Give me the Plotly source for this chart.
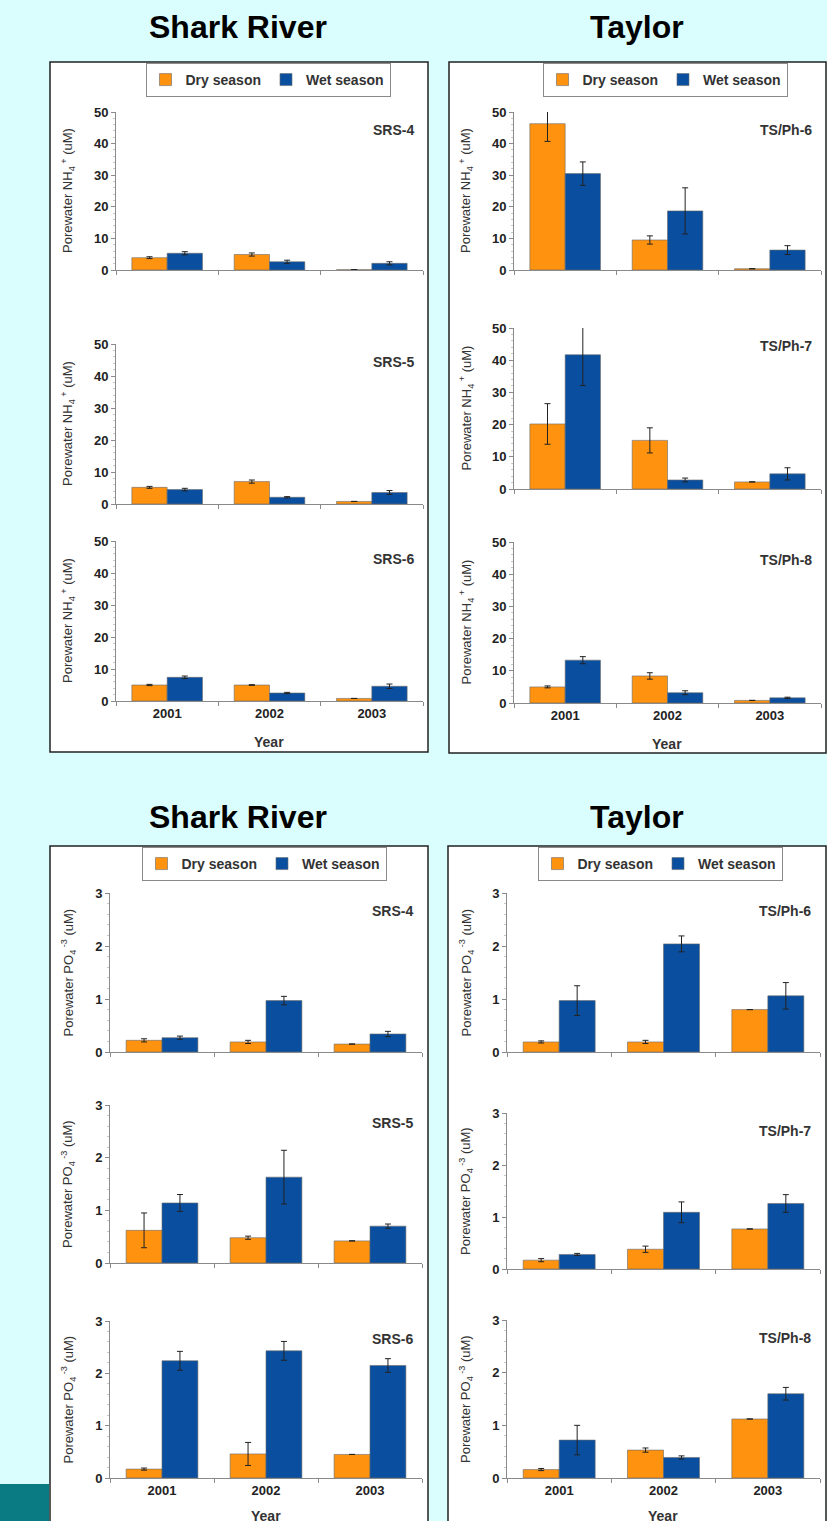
import plotly.graph_objects as go

# ---------------- data ----------------
years = ["2001", "2002", "2003"]
seasons = ["Dry season", "Wet season"]
region_titles = ["Shark River", "Taylor"]

# Porewater NH4+ (uM)
nh4_srs4_dry = [3.9, 4.9, 0.1]
nh4_srs4_dry_err = [0.3, 0.5, None]
nh4_srs4_wet = [5.3, 2.6, 2.1]
nh4_srs4_wet_err = [0.5, 0.5, 0.5]
nh4_srs5_dry = [5.2, 7.0, 0.8]
nh4_srs5_dry_err = [0.3, 0.5, None]
nh4_srs5_wet = [4.5, 2.1, 3.6]
nh4_srs5_wet_err = [0.4, 0.2, 0.6]
nh4_srs6_dry = [5.0, 5.0, 0.8]
nh4_srs6_dry_err = [0.2, 0.1, None]
nh4_srs6_wet = [7.4, 2.5, 4.6]
nh4_srs6_wet_err = [0.4, 0.2, 0.7]
nh4_ts6_dry = [46.3, 9.5, 0.4]
nh4_ts6_dry_err = [5.6, 1.3, None]
nh4_ts6_wet = [30.5, 18.7, 6.3]
nh4_ts6_wet_err = [3.7, 7.3, 1.4]
nh4_ts7_dry = [20.2, 15.1, 2.2]
nh4_ts7_dry_err = [6.3, 3.9, None]
nh4_ts7_wet = [41.7, 2.8, 4.7]
nh4_ts7_wet_err = [9.6, 0.6, 1.9]
nh4_ts8_dry = [5.0, 8.4, 0.8]
nh4_ts8_dry_err = [0.3, 1.0, None]
nh4_ts8_wet = [13.3, 3.2, 1.6]
nh4_ts8_wet_err = [1.1, 0.6, 0.2]

# Porewater PO4-3 (uM)
po4_srs4_dry = [0.22, 0.19, 0.15]
po4_srs4_dry_err = [0.03, 0.03, None]
po4_srs4_wet = [0.27, 0.97, 0.34]
po4_srs4_wet_err = [0.03, 0.08, 0.05]
po4_srs5_dry = [0.62, 0.48, 0.42]
po4_srs5_dry_err = [0.33, 0.03, None]
po4_srs5_wet = [1.14, 1.63, 0.70]
po4_srs5_wet_err = [0.16, 0.51, 0.04]
po4_srs6_dry = [0.17, 0.46, 0.45]
po4_srs6_dry_err = [0.02, 0.22, None]
po4_srs6_wet = [2.24, 2.43, 2.15]
po4_srs6_wet_err = [0.18, 0.18, 0.13]
po4_ts6_dry = [0.19, 0.19, 0.80]
po4_ts6_dry_err = [0.02, 0.03, None]
po4_ts6_wet = [0.97, 2.04, 1.06]
po4_ts6_wet_err = [0.28, 0.15, 0.25]
po4_ts7_dry = [0.17, 0.38, 0.77]
po4_ts7_dry_err = [0.03, 0.06, None]
po4_ts7_wet = [0.28, 1.09, 1.26]
po4_ts7_wet_err = [0.02, 0.20, 0.17]
po4_ts8_dry = [0.16, 0.53, 1.12]
po4_ts8_dry_err = [0.02, 0.04, None]
po4_ts8_wet = [0.72, 0.39, 1.60]
po4_ts8_wet_err = [0.28, 0.03, 0.12]

# ---------------- layout helpers ----------------
W, H = 827, 1521
FONT = "Arial, Liberation Sans, sans-serif"
DRY_COLOR = "#ff930f"
WET_COLOR = "#0a4f9f"
AXIS_COLOR = "#8a8a8a"
BG = "#dafefe"


def px(x):
    return x / W


def py(y):
    return 1 - y / H


NH4_TITLE = "Porewater NH<sub>4</sub><sup> +</sup> (uM)"
PO4_TITLE = "Porewater PO<sub>4</sub><sup> -3</sup> (uM)"

# (label, dry, dry_err, wet, wet_err, kind, legend, xl, xr, ytop, ybot, last)
panels = [
    ("SRS-4", nh4_srs4_dry, nh4_srs4_dry_err, nh4_srs4_wet, nh4_srs4_wet_err, "nh4", "legend", 116, 423, 112, 270, False),
    ("SRS-5", nh4_srs5_dry, nh4_srs5_dry_err, nh4_srs5_wet, nh4_srs5_wet_err, "nh4", "legend", 116, 423, 344, 504, False),
    ("SRS-6", nh4_srs6_dry, nh4_srs6_dry_err, nh4_srs6_wet, nh4_srs6_wet_err, "nh4", "legend", 116, 423, 541, 701, True),
    ("TS/Ph-6", nh4_ts6_dry, nh4_ts6_dry_err, nh4_ts6_wet, nh4_ts6_wet_err, "nh4", "legend2", 514, 821, 112, 270, False),
    ("TS/Ph-7", nh4_ts7_dry, nh4_ts7_dry_err, nh4_ts7_wet, nh4_ts7_wet_err, "nh4", "legend2", 514, 821, 328, 489, False),
    ("TS/Ph-8", nh4_ts8_dry, nh4_ts8_dry_err, nh4_ts8_wet, nh4_ts8_wet_err, "nh4", "legend2", 514, 821, 542, 703, True),
    ("SRS-4", po4_srs4_dry, po4_srs4_dry_err, po4_srs4_wet, po4_srs4_wet_err, "po4", "legend3", 110, 422, 893, 1052, False),
    ("SRS-5", po4_srs5_dry, po4_srs5_dry_err, po4_srs5_wet, po4_srs5_wet_err, "po4", "legend3", 110, 422, 1105, 1263, False),
    ("SRS-6", po4_srs6_dry, po4_srs6_dry_err, po4_srs6_wet, po4_srs6_wet_err, "po4", "legend3", 110, 422, 1321, 1478, True),
    ("TS/Ph-6", po4_ts6_dry, po4_ts6_dry_err, po4_ts6_wet, po4_ts6_wet_err, "po4", "legend4", 507, 820, 893, 1052, False),
    ("TS/Ph-7", po4_ts7_dry, po4_ts7_dry_err, po4_ts7_wet, po4_ts7_wet_err, "po4", "legend4", 507, 820, 1113, 1269, False),
    ("TS/Ph-8", po4_ts8_dry, po4_ts8_dry_err, po4_ts8_wet, po4_ts8_wet_err, "po4", "legend4", 507, 820, 1320, 1478, True),
]

fig = go.Figure()
layout_axes = {}
annotations = []
seen_legends = set()

for i, (label, dry, dry_err, wet, wet_err, kind, leg, xl, xr, yt, yb, last) in enumerate(panels):
    n = i + 1
    xa = "x" if n == 1 else f"x{n}"
    ya = "y" if n == 1 else f"y{n}"
    show = leg not in seen_legends
    seen_legends.add(leg)
    for name, vals, errs, color in ((seasons[0], dry, dry_err, DRY_COLOR), (seasons[1], wet, wet_err, WET_COLOR)):
        fig.add_trace(go.Bar(
            x=years, y=vals, name=name, xaxis=xa, yaxis=ya,
            marker=dict(color=color, line=dict(color="#6a6a6a", width=0.6)),
            error_y=dict(type="data", array=errs, visible=True, color="#222222", thickness=1, width=3),
            legend=leg, showlegend=show, legendgroup=leg + name,
        ))

    rng = [0, 50] if kind == "nh4" else [0, 3]
    dt = 10 if kind == "nh4" else 1
    minor_dt = 2 if kind == "nh4" else 0.2
    xkey = "xaxis" if n == 1 else f"xaxis{n}"
    ykey = "yaxis" if n == 1 else f"yaxis{n}"
    layout_axes[xkey] = dict(
        domain=[px(xl), px(xr)], anchor=ya, type="category",
        categoryorder="array", categoryarray=years,
        showline=True, linecolor=AXIS_COLOR, linewidth=1,
        ticks="outside", tickson="boundaries", ticklen=4, tickcolor=AXIS_COLOR,
        showgrid=False, zeroline=False, showticklabels=last, automargin=False,
        tickfont=dict(family=FONT, size=13, color="#222222", weight="bold"),
        fixedrange=True,
    )
    layout_axes[ykey] = dict(
        domain=[py(yb), py(yt)], anchor=xa, range=rng, dtick=dt, tick0=0,
        showline=True, linecolor=AXIS_COLOR, linewidth=1,
        ticks="outside", ticklen=4, tickcolor=AXIS_COLOR,
        minor=dict(dtick=minor_dt, ticks="outside", ticklen=2, tickcolor="#c8c8c8"),
        showgrid=False, zeroline=False, automargin=False,
        tickfont=dict(family=FONT, size=13, color="#222222", weight="bold"),
        fixedrange=True,
    )
    # station label
    annotations.append(dict(
        text=f"<b>{label}</b>", x=px(xr - 7), y=py(yt + 18), xref="paper", yref="paper",
        xanchor="right", yanchor="middle", showarrow=False,
        font=dict(family=FONT, size=14, color="#333333"),
    ))
    # y-axis title
    box_left = 50 if xl < 300 else 448
    annotations.append(dict(
        text=NH4_TITLE if kind == "nh4" else PO4_TITLE,
        x=px(box_left + 18), y=py((yt + yb) / 2), xref="paper", yref="paper",
        xanchor="center", yanchor="middle", textangle=-90, showarrow=False,
        font=dict(family=FONT, size=13, color="#333333"),
    ))

# "Year" labels (bottom ones are cut by the page edge, as in the original)
for xc, yc in ((269, 742), (667, 744), (266, 1516), (663, 1516)):
    annotations.append(dict(
        text="<b>Year</b>", x=px(xc), y=py(yc), xref="paper", yref="paper",
        xanchor="center", yanchor="middle", showarrow=False,
        font=dict(family=FONT, size=14, color="#333333"),
    ))

# Region titles
for yc in (27, 817):
    for xc, t in ((238, region_titles[0]), (637, region_titles[1])):
        annotations.append(dict(
            text=f"<b>{t}</b>", x=px(xc), y=py(yc), xref="paper", yref="paper",
            xanchor="center", yanchor="middle", showarrow=False,
            font=dict(family=FONT, size=32, color="#000000"),
        ))

shapes = [
    dict(type="rect", xref="paper", yref="paper", x0=px(50), x1=px(428), y0=py(752), y1=py(62),
         line=dict(color="#222222", width=1.5), fillcolor="white", layer="below"),
    dict(type="rect", xref="paper", yref="paper", x0=px(449), x1=px(826), y0=py(753), y1=py(62),
         line=dict(color="#222222", width=1.5), fillcolor="white", layer="below"),
    dict(type="rect", xref="paper", yref="paper", x0=px(50), x1=px(428), y0=py(1540), y1=py(846),
         line=dict(color="#222222", width=1.5), fillcolor="white", layer="below"),
    dict(type="rect", xref="paper", yref="paper", x0=px(448), x1=px(826), y0=py(1540), y1=py(846),
         line=dict(color="#222222", width=1.5), fillcolor="white", layer="below"),
    dict(type="rect", xref="paper", yref="paper", x0=0, x1=px(49), y0=py(1540), y1=py(1484),
         line=dict(width=0), fillcolor="#0b7b83", layer="below"),
]

legend_style = dict(
    orientation="h", xanchor="center", yanchor="top",
    bgcolor="white", bordercolor="#8a8a8a", borderwidth=1,
    font=dict(family=FONT, size=14, color="#333333", weight="bold"),
    itemclick=False, itemdoubleclick=False, tracegroupgap=0,
)

fig.update_layout(
    width=W, height=H, autosize=False,
    margin=dict(l=0, r=0, t=0, b=0, pad=0, autoexpand=False),
    paper_bgcolor=BG, plot_bgcolor="rgba(0,0,0,0)",
    barmode="group", bargap=0.31, bargroupgap=0,
    font=dict(family=FONT),
    annotations=annotations, shapes=shapes,
    legend=dict(x=px(268), y=py(63), **legend_style),
    legend2=dict(x=px(665), y=py(63), **legend_style),
    legend3=dict(x=px(264), y=py(847), **legend_style),
    legend4=dict(x=px(660), y=py(847), **legend_style),
    **layout_axes,
)

fig.write_html(
    "out.html",
    config={"displayModeBar": False, "staticPlot": True},
    post_script=(
        "document.documentElement.style.margin='0';"
        "document.documentElement.style.overflow='hidden';"
        "document.body.style.margin='0';"
        "document.body.style.padding='0';"
        "document.body.style.overflow='hidden';"
        f"document.body.style.background='{BG}';"
        "var gd=document.getElementById('{plot_id}');"
        "gd.style.position='fixed';gd.style.top='0px';gd.style.left='0px';"
    ),
)
